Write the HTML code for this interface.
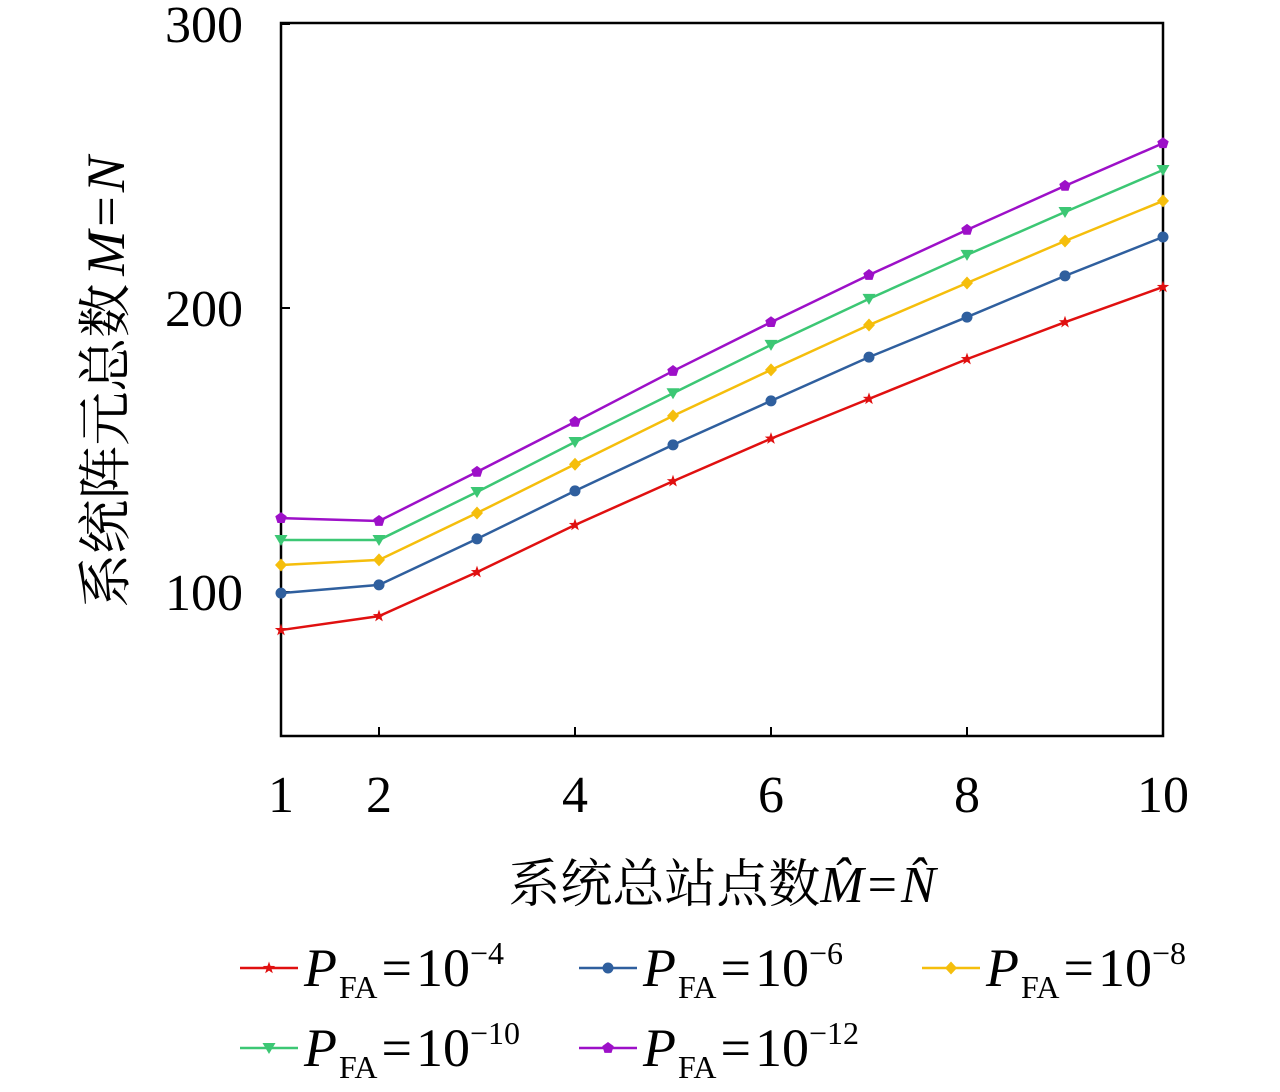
<!DOCTYPE html>
<html><head><meta charset="utf-8">
<style>
body{margin:0;background:#fff;}
svg{display:block;font-family:"Liberation Serif","Noto Serif CJK SC",serif;}
</style></head>
<body>
<svg id="chart" width="1280" height="1092" viewBox="0 0 1280 1092">
<rect x="281" y="23" width="882" height="713" fill="none" stroke="#000" stroke-width="2.5"/>
<g id="ticks"></g>
<g id="series"></g>
<text x="722" y="902" font-size="52" text-anchor="middle">系统总站点数<tspan font-style="italic">M̂</tspan><tspan dx="4">=</tspan><tspan font-style="italic" dx="4">N̂</tspan></text>
<text transform="translate(124,382) rotate(-90)" font-size="54" text-anchor="middle">系统阵元总数<tspan font-style="italic" dx="8">M</tspan><tspan dx="4">=</tspan><tspan font-style="italic" dx="4">N</tspan></text>
<g id="legend"></g>
</svg>
<script>
const xs = [1,2,3,4,5,6,7,8,9,10];
const xTicks = [1,2,4,6,8,10];
const yTicks = [100,200,300];
const red = [86.6,91.5,107,123.6,139,154,168,182,195,207.4];
const blue = [99.6,102.5,118.7,135.6,151.8,167.3,182.7,196.8,211.3,225];
const yellow = [109.5,111.3,127.8,145,162,178.2,194,208.8,223.6,237.7];
const green = [118.3,118.3,135.2,152.8,170,187,203.2,218.7,233.8,248.6];
const purple = [126,125,142.3,159.9,177.8,195,211.6,227.5,243,258];
const labels = ["-4","-6","-8","-10","-12"];
const NS="http://www.w3.org/2000/svg";
const X=v=>281+(v-1)*98;
const Y=v=>734-(v-50)*2.84;
function mk(t,a,p){const e=document.createElementNS(NS,t);for(const k in a)e.setAttribute(k,a[k]);p.appendChild(e);return e;}
const tk=document.getElementById('ticks');
xTicks.forEach(v=>{
  const l=mk('line',{x1:X(v),x2:X(v),y1:736,y2:727,stroke:'#000','stroke-width':2},tk);
  
  
  const t=mk('text',{x:X(v),y:812,'font-size':52,'text-anchor':'middle'},tk);t.textContent=v;
  
  
});
yTicks.forEach(v=>{
  const l=mk('line',{x1:281,x2:290,y1:Y(v),y2:Y(v),stroke:'#000','stroke-width':2},tk);
  
  
  const t=mk('text',{x:243,y:Y(v)+18,'font-size':52,'text-anchor':'end'},tk);t.textContent=v;
  
  
});
function marker(type,x,y,c,p){
  let pts;
  if(type==='circle'){return mk('circle',{cx:x,cy:y,r:5.5,fill:c},p);}
  if(type==='star'){pts=[];for(let i=0;i<10;i++){const r=i%2?2.6:6.5,a=-Math.PI/2+i*Math.PI/5;pts.push([x+r*Math.cos(a),y+r*Math.sin(a)]);}}
  if(type==='diamond')pts=[[x,y-6.5],[x+6,y],[x,y+6.5],[x-6,y]];
  if(type==='tri')pts=[[x-6.5,y-5],[x+6.5,y-5],[x,y+6]];
  if(type==='pent'){pts=[];for(let i=0;i<5;i++){const a=-Math.PI/2+i*2*Math.PI/5;pts.push([x+6*Math.cos(a),y+6*Math.sin(a)]);}}
  return mk('polygon',{points:pts.map(q=>q.join(',')).join(' '),fill:c},p);
}
const series=[[red,'#e01010','star'],[blue,'#2f5f9e','circle'],[yellow,'#f5be0c','diamond'],[green,'#3cc774','tri'],[purple,'#9d10c8','pent']];
const sg=document.getElementById('series');
series.forEach((s,i)=>{
  const g=mk('g',{},sg);
  
  
  const pl=mk('polyline',{points:xs.map((x,j)=>X(x)+','+Y(s[0][j])).join(' '),fill:'none',stroke:s[1],'stroke-width':2.5},g);
  
  
  xs.forEach((x,j)=>{const m=marker(s[2],X(x),Y(s[0][j]),s[1],g);
    
    });
});
const lg=document.getElementById('legend');
const lpos=[[240,968],[579,968],[922,968],[240,1048],[579,1048]];
series.forEach((s,i)=>{
  const [lx,ly]=lpos[i];
  const g=mk('g',{},lg);
  
  
  mk('line',{x1:lx,x2:lx+58,y1:ly,y2:ly,stroke:s[1],'stroke-width':2.5},g);
  marker(s[2],lx+29,ly,s[1],g);
  const t=mk('text',{x:lx+64,y:ly+18,'font-size':54},g);
  t.innerHTML='<tspan font-style="italic">P</tspan><tspan font-size="32" dy="12" dx="2">FA</tspan><tspan dy="-12" dx="4">=</tspan><tspan dx="4">10</tspan><tspan font-size="32" dy="-22">'+labels[i].replace('-','−')+'</tspan>';
});
</script>
</body></html>
